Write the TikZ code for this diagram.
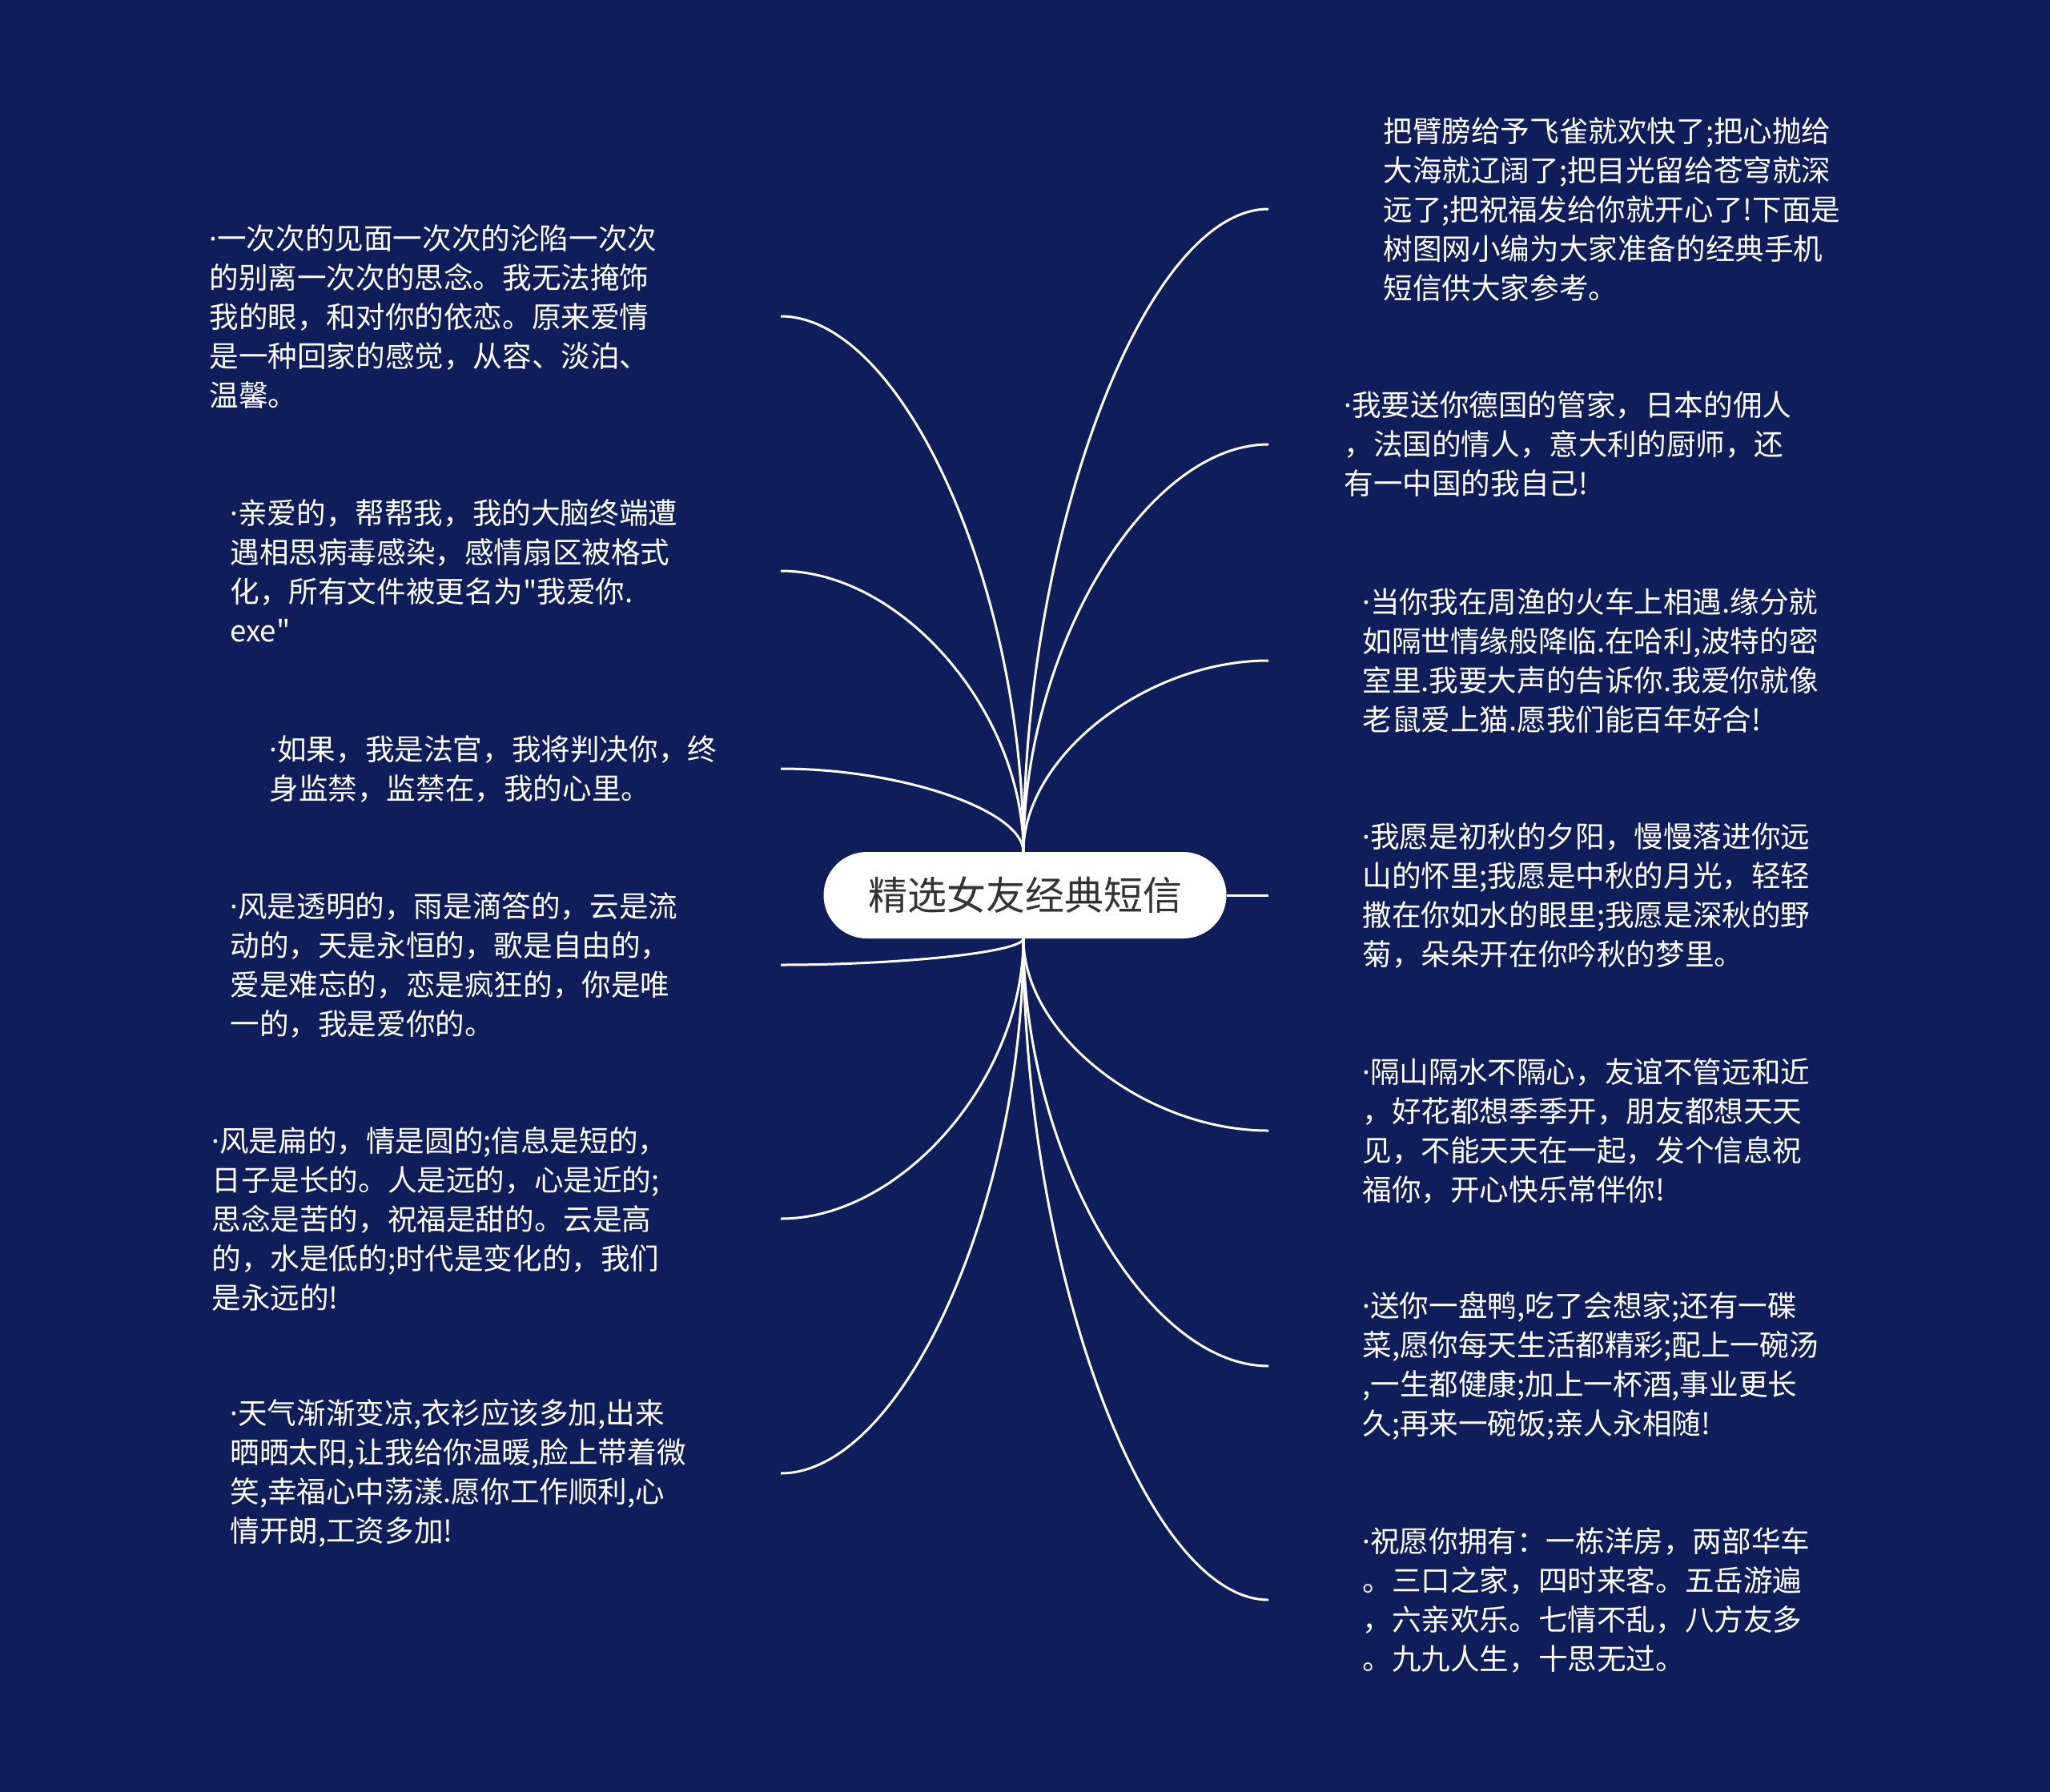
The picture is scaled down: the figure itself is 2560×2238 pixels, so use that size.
\documentclass[tikz,border=0pt]{standalone}
\usepackage{fontspec}
\newfontfamily\cjk{Noto Sans CJK SC}
\newfontfamily\latinsans{Noto Sans}
\newcommand{\mdot}{{\latinsans ·}}
\definecolor{bgnavy}{RGB}{15,29,90}
\definecolor{centertext}{RGB}{51,51,51}
\begin{document}
\begin{tikzpicture}[x=0.5pt,y=-0.5pt,
  leaf/.style={anchor=west,align=left,text=white,inner sep=0pt,font=\cjk\fontsize{18.3}{24.5}\selectfont},
  link/.style={draw=white,line width=1.5pt},
  hub/.style={fill=white,rounded corners=27pt,minimum width=251.5pt,minimum height=54pt,inner sep=0pt,text=centertext,font=\cjk\fontsize{24.5}{30}\selectfont}]
\fill[bgnavy] (0,0) rectangle (2560,2238);
\useasboundingbox (0,0) rectangle (2560,2238);

% endpoints of connectors
\coordinate (L1) at (975,395);
\coordinate (L2) at (975,713);
\coordinate (L3) at (975,960);
\coordinate (L4) at (975,1205);
\coordinate (L5) at (975,1522);
\coordinate (L6) at (975,1840);
\coordinate (R1) at (1584,261);
\coordinate (R2) at (1584,555);
\coordinate (R3) at (1584,825);
\coordinate (R4) at (1584,1118);
\coordinate (R5) at (1584,1412);
\coordinate (R6) at (1584,1706);
\coordinate (R7) at (1584,1998);
\coordinate (top) at (1278,1064);
\coordinate (bot) at (1278,1172);

% connectors
\draw[link] (top) .. controls (1278,730) and (1126,395) .. (L1);
\draw[link] (top) .. controls (1278,889) and (1126,713) .. (L2);
\draw[link] (top) .. controls (1278,1012) and (1126,960) .. (L3);
\draw[link] (bot) .. controls (1278,1189) and (1126,1205) .. (L4);
\draw[link] (bot) .. controls (1278,1347) and (1126,1522) .. (L5);
\draw[link] (bot) .. controls (1278,1506) and (1126,1840) .. (L6);
\draw[link] (top) .. controls (1278,663) and (1431,261) .. (R1);
\draw[link] (top) .. controls (1278,810) and (1431,555) .. (R2);
\draw[link] (top) .. controls (1278,945) and (1431,825) .. (R3);
\draw[link] (bot) .. controls (1278,1292) and (1431,1412) .. (R5);
\draw[link] (bot) .. controls (1278,1439) and (1431,1706) .. (R6);
\draw[link] (bot) .. controls (1278,1585) and (1431,1998) .. (R7);

\node[hub] (c) at (1280,1118) {精选女友经典短信};
\draw[link] (c.east) -- (R4);

% left texts
\node[leaf] (t1) at (261,395) {\mdot 一次次的见面一次次的沦陷一次次\\的别离一次次的思念。我无法掩饰\\我的眼，和对你的依恋。原来爱情\\是一种回家的感觉，从容、淡泊、\\温馨。};
\node[leaf] (t2) at (287,713) {\mdot 亲爱的，帮帮我，我的大脑终端遭\\遇相思病毒感染，感情扇区被格式\\化，所有文件被更名为"我爱你.\\exe"};
\node[leaf] (t3) at (336,960) {\mdot 如果，我是法官，我将判决你，终\\身监禁，监禁在，我的心里。};
\node[leaf] (t4) at (287,1205) {\mdot 风是透明的，雨是滴答的，云是流\\动的，天是永恒的，歌是自由的，\\爱是难忘的，恋是疯狂的，你是唯\\一的，我是爱你的。};
\node[leaf] (t5) at (264,1522) {\mdot 风是扁的，情是圆的;信息是短的，\\日子是长的。人是远的，心是近的;\\思念是苦的，祝福是甜的。云是高\\的，水是低的;时代是变化的，我们\\是永远的!};
\node[leaf] (t6) at (287,1840) {\mdot 天气渐渐变凉,衣衫应该多加,出来\\晒晒太阳,让我给你温暖,脸上带着微\\笑,幸福心中荡漾.愿你工作顺利,心\\情开朗,工资多加!};

% right texts
\node[leaf] (u1) at (1727,261) {把臂膀给予飞雀就欢快了;把心抛给\\大海就辽阔了;把目光留给苍穹就深\\远了;把祝福发给你就开心了!下面是\\树图网小编为大家准备的经典手机\\短信供大家参考。};
\node[leaf] (u2) at (1678,555) {\mdot 我要送你德国的管家，日本的佣人\\，法国的情人，意大利的厨师，还\\有一中国的我自己!};
\node[leaf] (u3) at (1701,825) {\mdot 当你我在周渔的火车上相遇.缘分就\\如隔世情缘般降临.在哈利,波特的密\\室里.我要大声的告诉你.我爱你就像\\老鼠爱上猫.愿我们能百年好合!};
\node[leaf] (u4) at (1701,1118) {\mdot 我愿是初秋的夕阳，慢慢落进你远\\山的怀里;我愿是中秋的月光，轻轻\\撒在你如水的眼里;我愿是深秋的野\\菊，朵朵开在你吟秋的梦里。};
\node[leaf] (u5) at (1701,1412) {\mdot 隔山隔水不隔心，友谊不管远和近\\，好花都想季季开，朋友都想天天\\见，不能天天在一起，发个信息祝\\福你，开心快乐常伴你!};
\node[leaf] (u6) at (1701,1706) {\mdot 送你一盘鸭,吃了会想家;还有一碟\\菜,愿你每天生活都精彩;配上一碗汤\\,一生都健康;加上一杯酒,事业更长\\久;再来一碗饭;亲人永相随!};
\node[leaf] (u7) at (1701,1998) {\mdot 祝愿你拥有：一栋洋房，两部华车\\。三口之家，四时来客。五岳游遍\\，六亲欢乐。七情不乱，八方友多\\。九九人生，十思无过。};
\end{tikzpicture}
\end{document}
